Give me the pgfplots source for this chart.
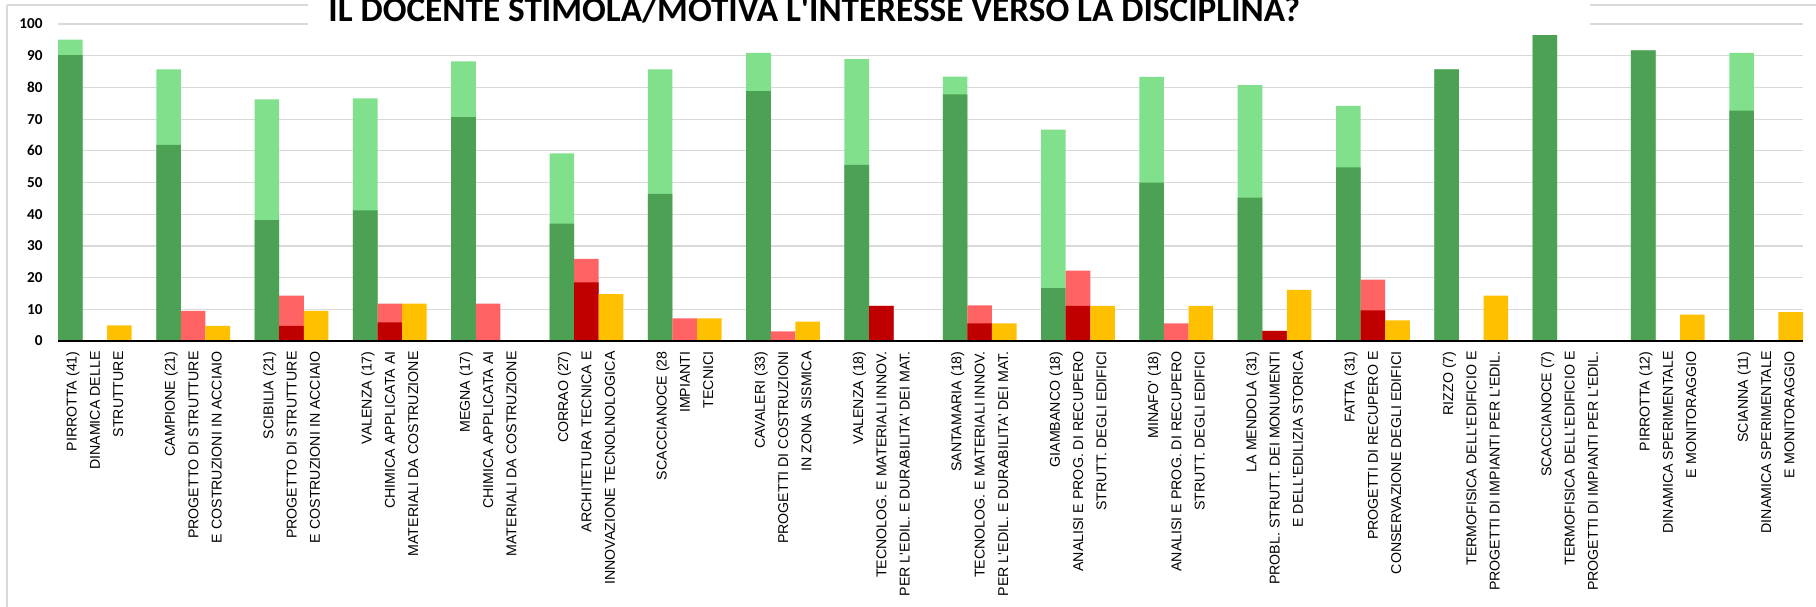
\documentclass[border=0pt]{standalone}
\usepackage{pgfplots}
\pgfplotsset{compat=1.18}
\usepackage{pgfplotstable}
\usepackage{fontspec}
\setmainfont{Liberation Sans}
\newfontfamily\carlito{Carlito}
\definecolor{dgreen}{RGB}{77,161,84}
\definecolor{lgreen}{RGB}{128,224,140}
\definecolor{dred}{RGB}{192,0,0}
\definecolor{lred}{RGB}{255,99,99}
\definecolor{yel}{RGB}{255,192,0}
\definecolor{gridc}{RGB}{217,217,217}
\newcommand{\ap}{\textquotesingle}

% dg = dark green, lg = light green, dr = dark red, lr = light red, ye = yellow (percent)
\pgfplotstableread{
x  dg    lg    dr    lr    ye
0  90.2  4.9   0     0     4.9
1  61.9  23.8  0     9.5   4.8
2  38.1  38.1  4.8   9.5   9.5
3  41.2  35.3  5.9   5.9   11.8
4  70.6  17.6  0     11.8  0
5  37.0  22.2  18.5  7.4   14.8
6  46.4  39.3  0     7.1   7.1
7  78.8  12.1  0     3.0   6.1
8  55.6  33.3  11.1  0     0
9  77.8  5.6   5.6   5.6   5.6
10 16.7  50.0  11.1  11.1  11.1
11 50.0  33.3  0     5.6   11.1
12 45.2  35.5  3.2   0     16.1
13 54.8  19.4  9.7   9.7   6.5
14 85.7  0     0     0     14.3
15 100   0     0     0     0
16 91.7  0     0     0     8.3
17 72.7  18.2  0     0     9.1
}\data

\begin{document}
\begin{tikzpicture}
\begin{axis}[
  at={(29pt,132.5pt)}, anchor=south west,
  scale only axis, width=872.5pt, height=158.5pt,
  xmin=-0.375, xmax=17.375, ymin=0, ymax=100,
  ytick={0,10,...,100},
  xtick={0,...,17},
  xticklabels={
    {PIRROTTA (41)\\DINAMICA DELLE\\STRUTTURE},
    {CAMPIONE (21)\\PROGETTO DI STRUTTURE\\E COSTRUZIONI IN ACCIAIO},
    {SCIBILIA (21)\\PROGETTO DI STRUTTURE\\E COSTRUZIONI IN ACCIAIO},
    {VALENZA (17)\\CHIMICA APPLICATA AI\\MATERIALI DA COSTRUZIONE},
    {MEGNA (17)\\CHIMICA APPLICATA AI\\MATERIALI DA COSTRUZIONE},
    {CORRAO (27)\\ARCHITETURA TECNICA E\\INNOVAZIONE TECNOLNOLOGICA},
    {SCACCIANOCE (28\\IMPIANTI\\TECNICI},
    {CAVALERI (33)\\PROGETTI DI COSTRUZIONI\\IN ZONA SISMICA},
    {VALENZA (18)\\TECNOLOG. E MATERIALI INNOV.\\PER L\ap EDIL. E DURABILITA\ap{} DEI MAT.},
    {SANTAMARIA (18)\\TECNOLOG. E MATERIALI INNOV.\\PER L\ap EDIL. E DURABILITA\ap{} DEI MAT.},
    {GIAMBANCO (18)\\ANALISI E PROG. DI RECUPERO\\STRUTT. DEGLI EDIFICI},
    {MINAFO\ap{} (18)\\ANALISI E PROG. DI RECUPERO\\STRUTT. DEGLI EDIFICI},
    {LA MENDOLA (31)\\PROBL. STRUTT. DEI MONUMENTI\\E DELL\ap EDILIZIA STORICA},
    {FATTA (31)\\PROGETTI DI RECUPERO E\\CONSERVAZIONE DEGLI EDIFICI},
    {RIZZO (7)\\TERMOFISICA DELL\ap EDIFICIO E\\PROGETTI DI IMPIANTI PER L\ap EDIL.},
    {SCACCIANOCE (7)\\TERMOFISICA DELL\ap EDIFICIO E\\PROGETTI DI IMPIANTI PER L\ap EDIL.},
    {PIRROTTA (12)\\DINAMICA SPERIMENTALE\\E MONITORAGGIO},
    {SCIANNA (11)\\DINAMICA SPERIMENTALE\\E MONITORAGGIO}},
  axis line style={draw=none},
  major tick length=0pt,
  ymajorgrids, grid style={gridc, line width=0.6pt},
  /pgf/number format/assume math mode=true,
  yticklabel style={font=\carlito\bfseries\fontsize{7.6}{8}\selectfont, anchor=east, inner sep=0pt, xshift=-7.5pt},
  xticklabel style={font=\fontsize{7.1}{11.63}\selectfont, rotate=90, anchor=east, align=right, inner sep=0pt},
  xticklabel shift=5pt,
  clip=false,
  bar width=0.25,
]
\addplot[ybar, bar shift=-0.25, fill=lgreen, draw=none] table[x=x, y expr=\thisrow{dg}+\thisrow{lg}] {\data};
\addplot[ybar, bar shift=-0.25, fill=dgreen, draw=none] table[x=x, y=dg] {\data};
\addplot[ybar, bar shift=0, fill=lred, draw=none] table[x=x, y expr=\thisrow{dr}+\thisrow{lr}] {\data};
\addplot[ybar, bar shift=0, fill=dred, draw=none] table[x=x, y=dr] {\data};
\addplot[ybar, bar shift=0.25, fill=yel, draw=none] table[x=x, y=ye] {\data};
\draw[black, line width=1pt] (axis cs:-0.375,0) -- (axis cs:17.375,0);
\end{axis}
\fill[white] (154pt,285.65pt) rectangle (795pt,310pt);
\draw[gridc, line width=0.6pt] (3.5pt,300.5pt) -- (154pt,300.5pt);
\draw[gridc, line width=0.6pt] (795pt,300.5pt) -- (920pt,300.5pt);
\draw[gridc, line width=0.6pt] (3.5pt,300.5pt) -- (3.5pt,-10pt);
\node[anchor=base west, inner sep=0pt, font=\carlito\bfseries\fontsize{17.6}{20}\selectfont] at (164pt,292pt) {IL DOCENTE STIMOLA/MOTIVA L\ap INTERESSE VERSO LA DISCIPLINA?};
\pgfresetboundingbox
\useasboundingbox (0,0) rectangle (908pt,303pt);
\end{tikzpicture}
\end{document}
